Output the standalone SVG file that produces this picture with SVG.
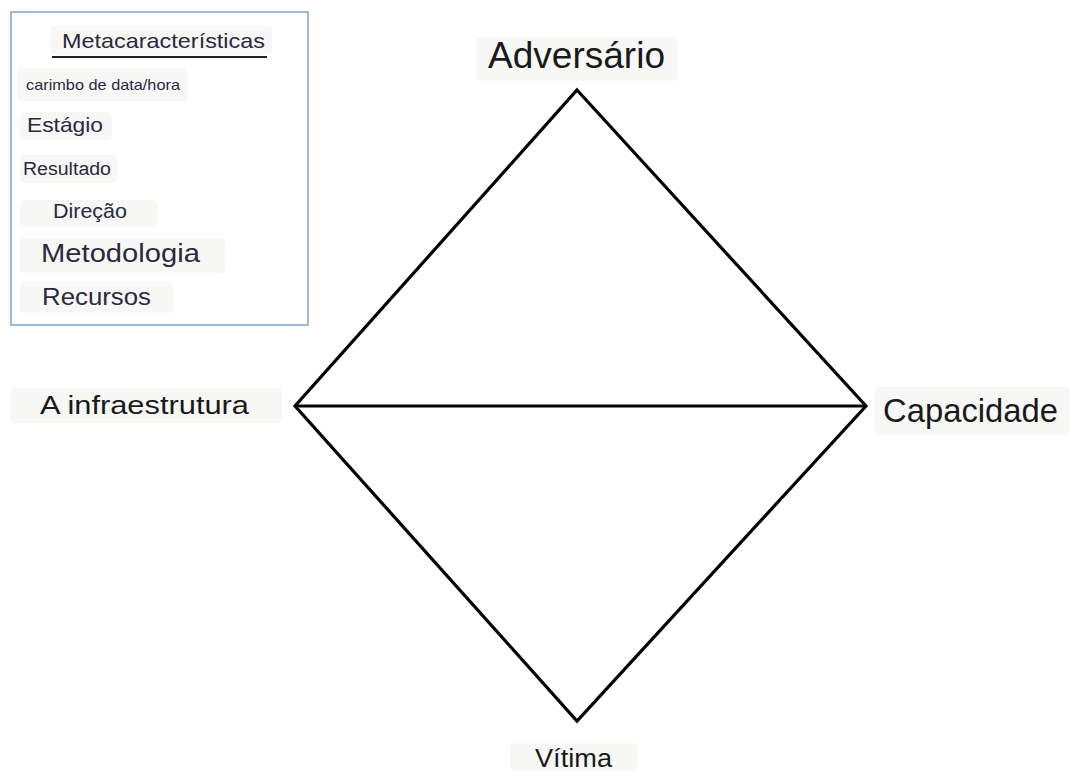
<svg xmlns="http://www.w3.org/2000/svg" width="1070" height="771" viewBox="0 0 1070 771">
<style>
text{font-family:"Liberation Sans",Arial,sans-serif;fill:#1a1a1a}
.m text{fill:#2a2a3c}
.bg{fill:#f7f7f6;stroke:none}
.edge{stroke:#000;stroke-width:3.2;fill:none;stroke-linejoin:miter}
</style>
<rect width="1070" height="771" fill="#fff"/>
<g id="meta" class="m">
<rect x="11" y="12" width="297" height="313" fill="#fff" stroke="#86a9dc" stroke-width="1.6"/>
<rect class="bg" x="50" y="26" width="222" height="28" rx="4"/>
<text x="62" y="48" font-size="21" textLength="203" lengthAdjust="spacingAndGlyphs">Metacaracterísticas</text>
<line x1="52" y1="57" x2="267" y2="57" stroke="#222" stroke-width="2.2"/>
<rect class="bg" x="17" y="68" width="171" height="33" rx="5"/>
<text x="26" y="90" font-size="15" textLength="154" lengthAdjust="spacingAndGlyphs">carimbo de data/hora</text>
<rect class="bg" x="20" y="112" width="92" height="28" rx="5"/>
<text x="27" y="132" font-size="21" textLength="76" lengthAdjust="spacingAndGlyphs">Estágio</text>
<rect class="bg" x="20" y="155" width="97" height="28" rx="5"/>
<text x="23" y="175" font-size="18" textLength="88" lengthAdjust="spacingAndGlyphs">Resultado</text>
<rect class="bg" x="20" y="200" width="138" height="27" rx="5"/>
<text x="53" y="218" font-size="21" textLength="74" lengthAdjust="spacingAndGlyphs">Direção</text>
<rect class="bg" x="20" y="238" width="205" height="35" rx="5"/>
<text x="41" y="262" font-size="25" textLength="159" lengthAdjust="spacingAndGlyphs">Metodologia</text>
<rect class="bg" x="20" y="282" width="153" height="31" rx="5"/>
<text x="42" y="305" font-size="24" textLength="109" lengthAdjust="spacingAndGlyphs">Recursos</text>
</g>
<g id="connectors">
<polygon class="edge" points="577,90 866,406 577,721 295,406"/>
<line class="edge" x1="295" y1="406" x2="866" y2="406"/>
</g>
<g id="adversario">
<rect class="bg" x="476" y="37" width="201" height="44" rx="5"/>
<text x="488" y="68" font-size="37" textLength="177" lengthAdjust="spacingAndGlyphs">Adversário</text>
</g>
<g id="infraestrutura">
<rect class="bg" x="10" y="388" width="272" height="35" rx="5"/>
<text x="40" y="414" font-size="26" textLength="209" lengthAdjust="spacingAndGlyphs">A infraestrutura</text>
</g>
<g id="capacidade">
<rect class="bg" x="875" y="387" width="195" height="48" rx="5"/>
<text x="883" y="422" font-size="33" textLength="175" lengthAdjust="spacingAndGlyphs">Capacidade</text>
</g>
<g id="vitima">
<rect class="bg" x="510" y="743" width="127" height="28" rx="5"/>
<text x="535" y="767" font-size="26" textLength="77" lengthAdjust="spacingAndGlyphs">Vítima</text>
</g>
</svg>
